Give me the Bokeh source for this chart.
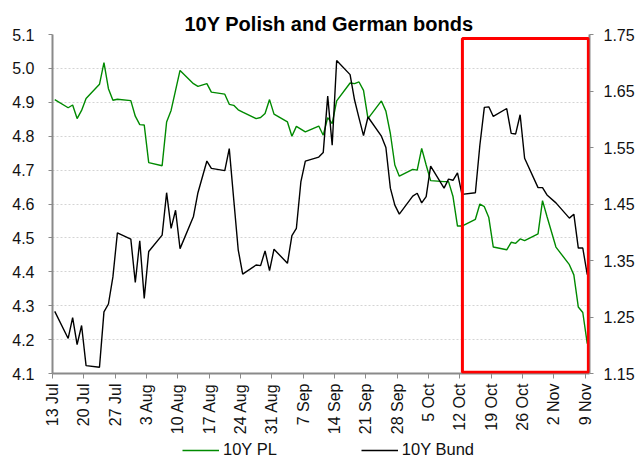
import math
import pandas as pd
from bokeh.plotting import figure
from bokeh.layouts import column
from bokeh.models import (Range1d, LinearAxis, FixedTicker, Legend, LegendItem,
                          BoxAnnotation, ColumnDataSource, NumeralTickFormatter)
from bokeh.embed import file_html
from bokeh.resources import INLINE

# ---------------- data ----------------
start_date = "2012-07-13"
end_date = "2012-11-10"

dates = [
    "2012-07-13", "2012-07-16", "2012-07-17", "2012-07-18", "2012-07-19", "2012-07-20",
    "2012-07-23", "2012-07-24", "2012-07-25", "2012-07-26", "2012-07-27",
    "2012-07-30", "2012-07-31", "2012-08-01", "2012-08-02", "2012-08-03",
    "2012-08-06", "2012-08-07", "2012-08-08", "2012-08-09", "2012-08-10",
    "2012-08-13", "2012-08-14", "2012-08-16", "2012-08-17",
    "2012-08-20", "2012-08-21", "2012-08-22", "2012-08-23", "2012-08-24",
    "2012-08-27", "2012-08-28", "2012-08-29", "2012-08-30", "2012-08-31",
    "2012-09-03", "2012-09-04", "2012-09-05", "2012-09-06", "2012-09-07",
    "2012-09-10", "2012-09-11", "2012-09-12", "2012-09-13", "2012-09-14",
    "2012-09-17", "2012-09-18", "2012-09-19", "2012-09-20", "2012-09-21",
    "2012-09-24", "2012-09-25", "2012-09-26", "2012-09-27", "2012-09-28",
    "2012-10-01", "2012-10-02", "2012-10-03", "2012-10-04", "2012-10-05",
    "2012-10-08", "2012-10-09", "2012-10-10", "2012-10-11", "2012-10-12",
    "2012-10-15", "2012-10-16", "2012-10-17", "2012-10-18", "2012-10-19",
    "2012-10-22", "2012-10-23", "2012-10-24", "2012-10-25", "2012-10-26",
    "2012-10-29", "2012-10-30", "2012-10-31", "2012-11-02",
    "2012-11-05", "2012-11-06", "2012-11-07", "2012-11-08", "2012-11-09",
]

pl_10y = [
    4.908, 4.884, 4.892, 4.852, 4.876, 4.911,
    4.953, 5.017, 4.940, 4.906, 4.909,
    4.905, 4.859, 4.834, 4.833, 4.722,
    4.713, 4.842, 4.876, 4.935, 4.994,
    4.955, 4.947, 4.955, 4.930,
    4.924, 4.894, 4.891, 4.878, 4.871,
    4.852, 4.855, 4.867, 4.908, 4.865,
    4.842, 4.800, 4.829, 4.821, 4.813,
    4.830, 4.803, 4.855, 4.837, 4.904,
    4.957, 4.955, 4.960, 4.935, 4.852,
    4.904, 4.874, 4.808, 4.715, 4.682,
    4.702, 4.700, 4.764, 4.715, 4.669,
    4.666, 4.666, 4.622, 4.535, 4.535,
    4.555, 4.600, 4.592, 4.560, 4.473,
    4.465, 4.487, 4.484, 4.497, 4.492,
    4.512, 4.610, 4.563, 4.473,
    4.421, 4.391, 4.296, 4.280, 4.188,
]

bund_10y = [
    1.260, 1.212, 1.249, 1.201, 1.235, 1.164,
    1.161, 1.259, 1.273, 1.321, 1.399,
    1.388, 1.311, 1.385, 1.283, 1.366,
    1.395, 1.470, 1.407, 1.439, 1.371,
    1.428, 1.470, 1.526, 1.513,
    1.509, 1.548, 1.458, 1.369, 1.326,
    1.342, 1.341, 1.367, 1.332, 1.370,
    1.345, 1.394, 1.407, 1.489, 1.526,
    1.533, 1.541, 1.641, 1.554, 1.704,
    1.679, 1.634, 1.602, 1.571, 1.604,
    1.570, 1.550, 1.478, 1.448, 1.432,
    1.464, 1.469, 1.452, 1.463, 1.517,
    1.478, 1.494, 1.492, 1.505, 1.467,
    1.470, 1.554, 1.621, 1.622, 1.605,
    1.619, 1.575, 1.574, 1.608, 1.531,
    1.479, 1.479, 1.466, 1.452,
    1.425, 1.432, 1.372, 1.372, 1.325,
]

tick_labels = ["13 Jul", "20 Jul", "27 Jul", "3 Aug", "10 Aug", "17 Aug", "24 Aug",
               "31 Aug", "7 Sep", "14 Sep", "21 Sep", "28 Sep", "5 Oct", "12 Oct",
               "19 Oct", "26 Oct", "2 Nov", "9 Nov"]
pl_ticks = [4.1, 4.2, 4.3, 4.4, 4.5, 4.6, 4.7, 4.8, 4.9, 5.0, 5.1]
bund_ticks = [1.15, 1.25, 1.35, 1.45, 1.55, 1.65, 1.75]

highlight_from = "2012-10-12"

# ---------------- helpers ----------------
t0 = pd.Timestamp(start_date)
def day_of(s):
    return (pd.Timestamp(s) - t0).days

x = [day_of(d) + 0.5 for d in dates]          # points sit in the middle of their day slot
tick_pos = [day_of(pd.Timestamp(l + " 2012").strftime("%Y-%m-%d")) for l in tick_labels]

src = ColumnDataSource(dict(x=x, pl=pl_10y, bund=bund_10y))

FONT = "Liberation Sans"
AXIS_COL = "#8a8a8a"
GREEN = "#008a00"
BLACK = "#000000"

p = figure(width=637, height=437, output_backend="svg", toolbar_location=None,
           x_range=Range1d(0, day_of(end_date)), y_range=Range1d(pl_ticks[0], pl_ticks[-1]),
           min_border_left=52, min_border_right=48, min_border_top=34, min_border_bottom=60)
p.extra_y_ranges = {"bund": Range1d(bund_ticks[0], bund_ticks[-1])}

p.title.text = "10Y Polish and German bonds"
p.title.align = "left"
p.title.offset = 132
p.title.standoff = 0
p.title.text_font = FONT
p.title.text_font_size = "20px"
p.title.text_font_style = "bold"
p.title.text_color = "#000000"

p.outline_line_color = None
p.background_fill_color = "white"
p.border_fill_color = "white"

p.xgrid.visible = False
p.ygrid.ticker = FixedTicker(ticks=pl_ticks)
p.ygrid.grid_line_color = "#d4d4d4"
p.ygrid.grid_line_dash = "2 2"
p.ygrid.grid_line_width = 1

def style_axis(ax):
    ax.axis_line_color = AXIS_COL
    ax.axis_line_width = 2
    ax.major_tick_line_color = AXIS_COL
    ax.major_tick_line_width = 1
    ax.major_tick_out = 4
    ax.major_tick_in = 0
    ax.minor_tick_line_color = None
    ax.major_label_text_font = FONT
    ax.major_label_text_font_size = "16px"
    ax.major_label_text_color = "#111111"

# left axis
yl = p.yaxis[0]
yl.ticker = FixedTicker(ticks=pl_ticks)
yl.formatter = NumeralTickFormatter(format="0.0")
style_axis(yl)
yl.major_label_standoff = 14

# right axis
yr = LinearAxis(y_range_name="bund", ticker=FixedTicker(ticks=bund_ticks),
                formatter=NumeralTickFormatter(format="0.00"))
style_axis(yr)
yr.major_label_standoff = 10
p.add_layout(yr, "right")

# bottom axis
xa = p.xaxis[0]
xa.ticker = FixedTicker(ticks=tick_pos)
xa.major_label_overrides = {t: l for t, l in zip(tick_pos, tick_labels)}
xa.major_label_orientation = math.pi / 2
style_axis(xa)
xa.major_tick_out = 5
xa.major_label_standoff = 5

# lines
r_pl = p.line("x", "pl", source=src, line_color=GREEN, line_width=1.4)
r_bund = p.line("x", "bund", source=src, y_range_name="bund", line_color=BLACK, line_width=1.4)

# highlight box (from 12 Oct to the end of the axis)
box = BoxAnnotation(left=day_of(highlight_from) + 0.6, right=day_of(end_date) - 0.25,
                    top=pl_ticks[-1] - 0.012, bottom=pl_ticks[0] + 0.004,
                    fill_alpha=0, line_color="#ff0000", line_alpha=1.0, line_width=3)
p.add_layout(box)

# ---------------- legend strip below the chart ----------------
lg = figure(width=637, height=23, output_backend="svg", toolbar_location=None,
            x_axis_location=None, y_axis_location=None,
            x_range=Range1d(0, 1), y_range=Range1d(0, 1),
            min_border_left=0, min_border_right=0, min_border_top=0, min_border_bottom=0)
lg.grid.visible = False
lg.outline_line_color = None
# legend keys only: drawn outside the strip's visible range
lg_pl = lg.line(x=[5, 6], y=[5, 5], line_color=GREEN, line_width=1.4)
lg_bund = lg.line(x=[5, 6], y=[5, 5], line_color=BLACK, line_width=1.4)

legend = Legend(items=[LegendItem(label="10Y PL", renderers=[lg_pl]),
                       LegendItem(label="10Y Bund", renderers=[lg_bund])],
                orientation="horizontal", location=(130, 1))
legend.border_line_color = None
legend.background_fill_alpha = 0
legend.label_text_font = FONT
legend.label_text_font_size = "16.5px"
legend.label_text_color = "#111111"
legend.glyph_width = 37
legend.glyph_height = 16
legend.label_height = 16
legend.label_standoff = 4
legend.spacing = 84
legend.padding = 0
legend.margin = 0
lg.add_layout(legend)

open("out.html", "w").write(file_html(column(p, lg, spacing=0), INLINE))
